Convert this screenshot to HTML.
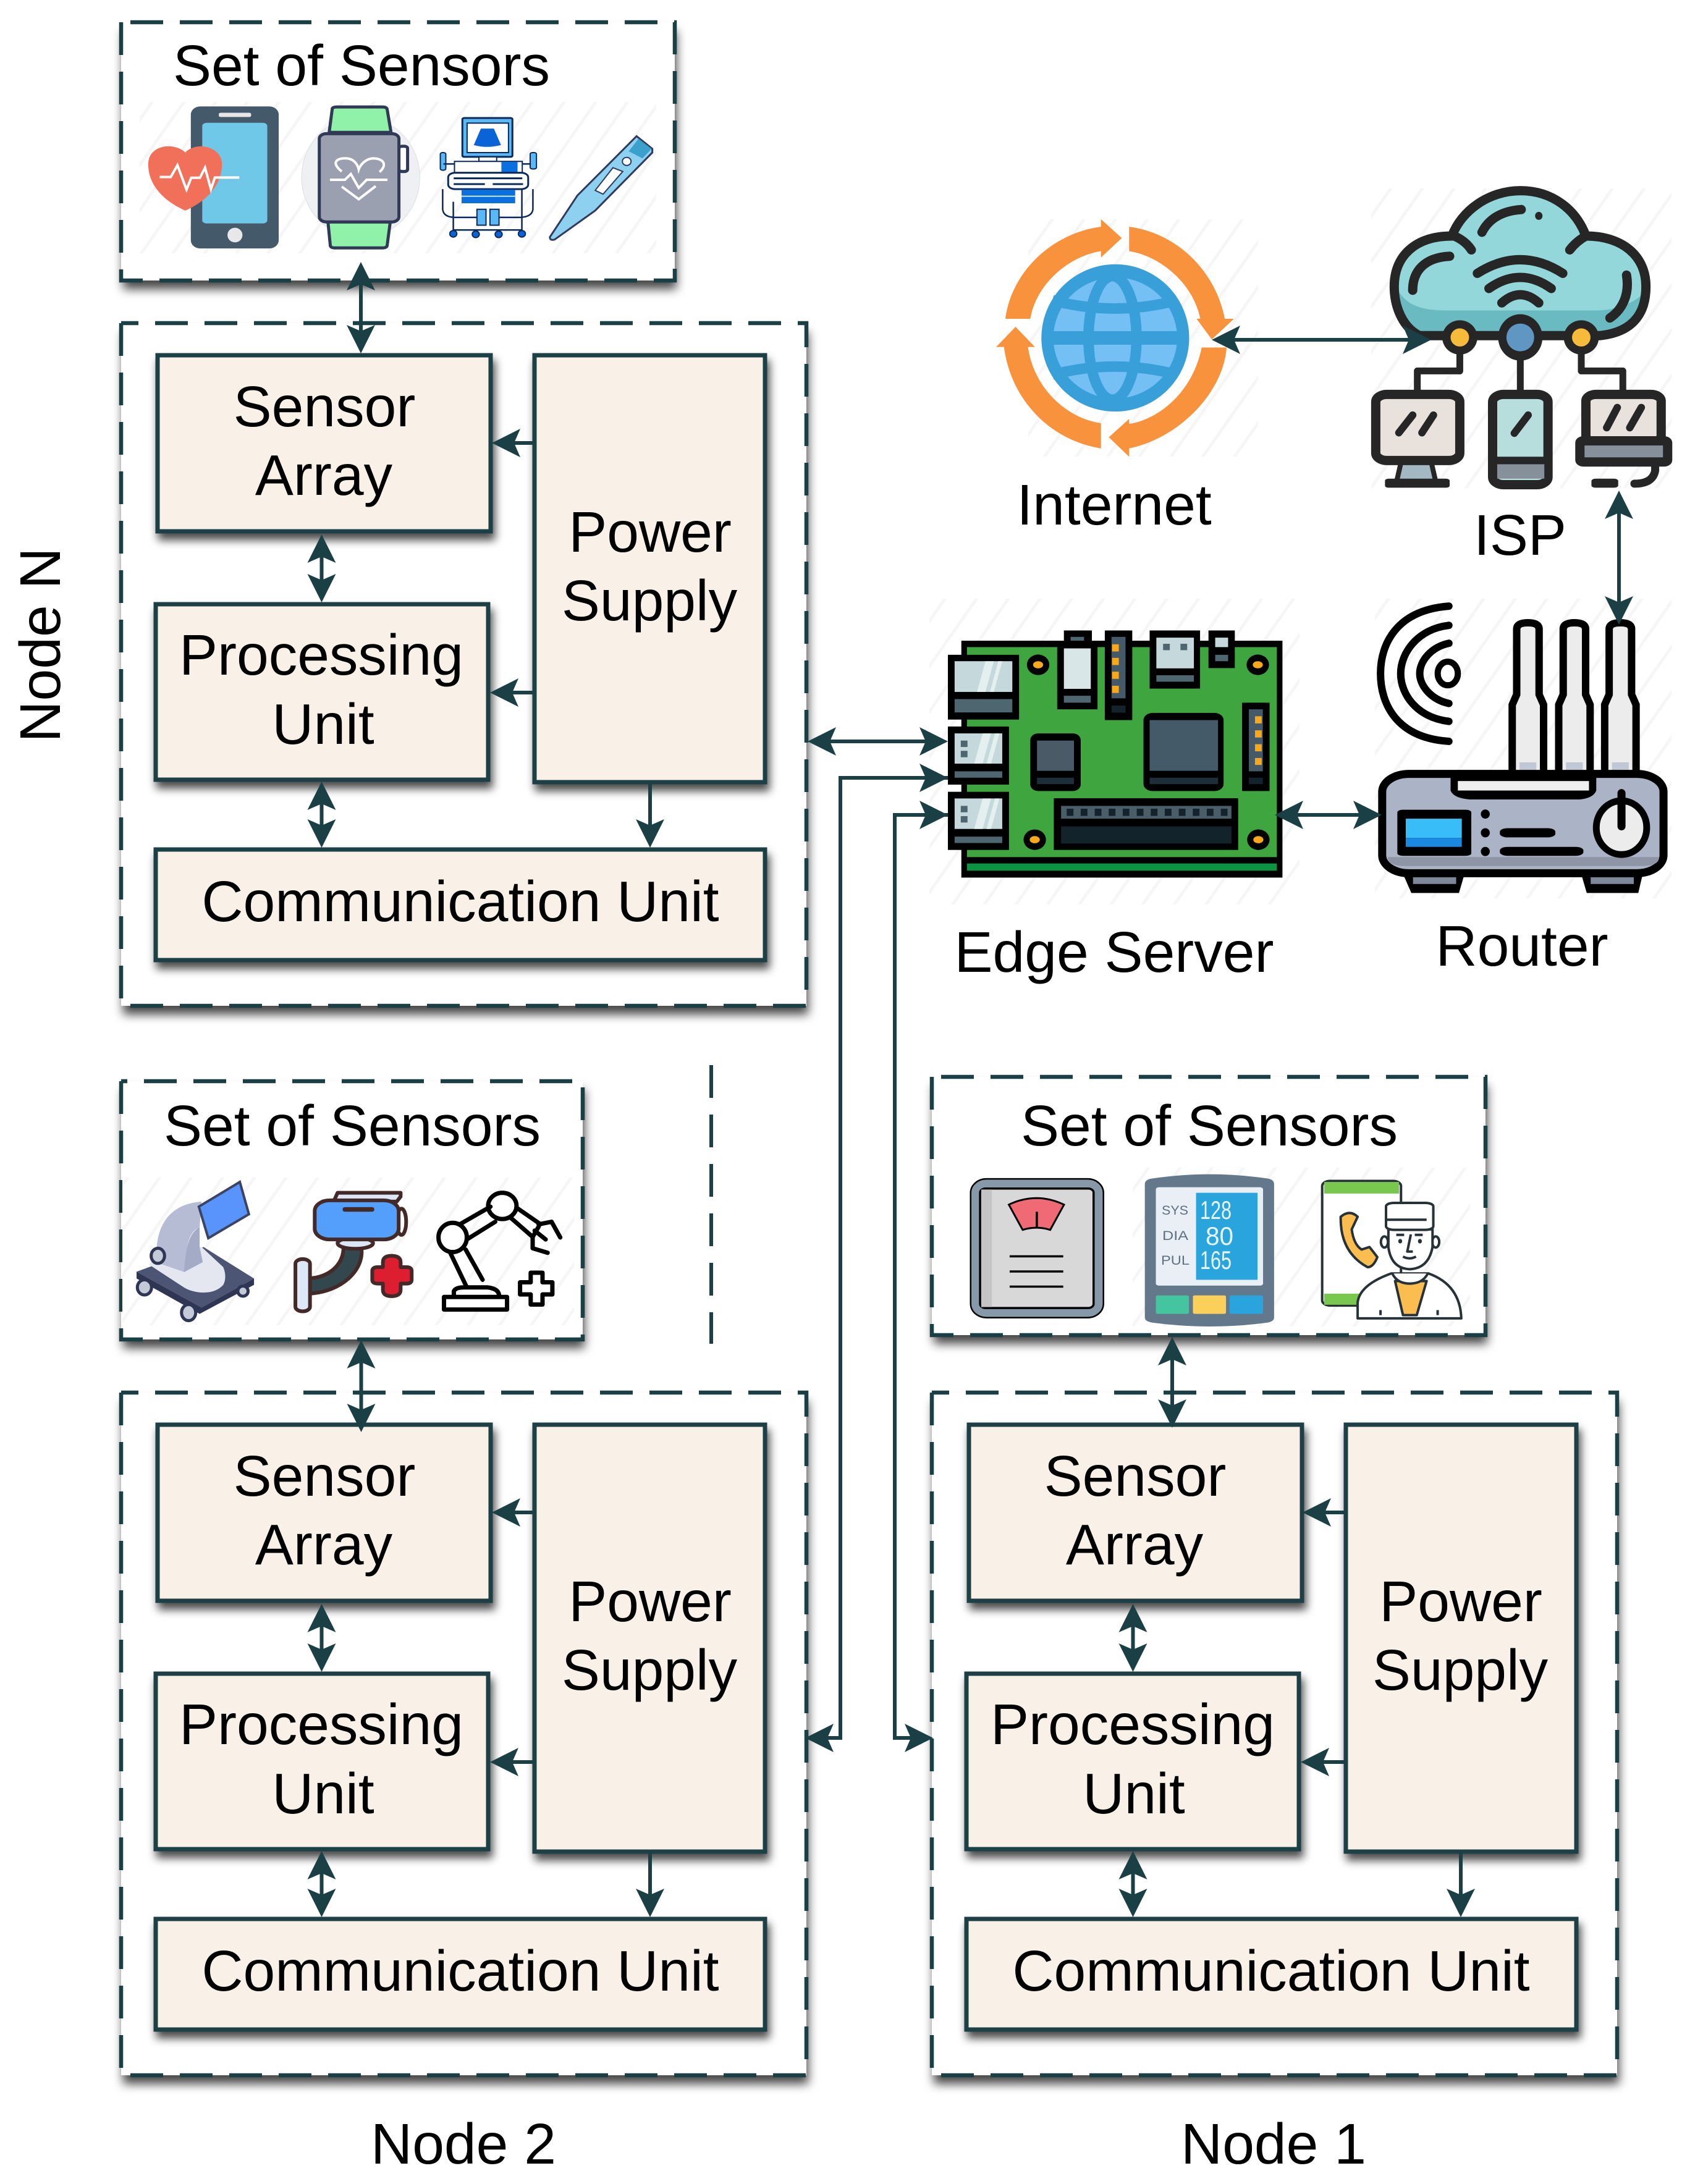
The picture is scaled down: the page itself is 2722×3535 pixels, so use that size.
<!DOCTYPE html>
<html><head><meta charset="utf-8"><style>
html,body{margin:0;padding:0;background:#fff}
svg{display:block}
text{font-family:"Liberation Sans",sans-serif;fill:#000}
.t{font-size:93px}
.m{text-anchor:middle}
.z *{vector-effect:non-scaling-stroke}
.b{fill:#f9f1e8;stroke:#1a3f45;stroke-width:7;filter:url(#s2)}
.w{fill:#fff;filter:url(#s1)}
.d{fill:none;stroke:#1a3f45;stroke-width:6.500;stroke-dasharray:53 27}
.l{fill:none;stroke:#1a3f45;stroke-width:6}
.h{fill:#1a3f45}
.hatch{fill:url(#hp)}
</style></head><body>
<svg xmlns="http://www.w3.org/2000/svg" width="2722" height="3535" viewBox="0 0 2722 3535">
<defs>
<filter id="s1" x="-10%" y="-10%" width="120%" height="130%"><feDropShadow dx="3" dy="14" stdDeviation="8" flood-color="#000" flood-opacity=".72"/></filter>
<filter id="s2" x="-20%" y="-30%" width="140%" height="170%"><feDropShadow dx="4" dy="11" stdDeviation="7" flood-color="#000" flood-opacity=".7"/></filter>
<pattern id="hp" width="42" height="42" patternUnits="userSpaceOnUse" patternTransform="rotate(35)"><rect width="42" height="42" fill="#fff"/><rect width="5" height="42" fill="#f6f6f6"/></pattern>
<path id="a" d="M0 0L-46 -23L-36 0L-46 23Z"/>
</defs>
<rect width="2722" height="3535" fill="#fff"/>

<!-- containers -->
<rect class="w" x="196" y="36" width="896" height="418"/>
<path class="d" d="M196 36V454H1092V36H196"/>
<rect class="w" x="196" y="1750" width="747" height="418"/>
<path class="d" d="M196 1750V2168H943V1750H196"/>
<rect class="w" x="1508" y="1743" width="896" height="418"/>
<path class="d" d="M1508 1743V2161H2404V1743H1508"/>
<path class="l" style="stroke-dasharray:53 27" d="M1151 1724V2175"/>

<rect class="hatch" x="226" y="165" width="836" height="245"/>
<rect class="hatch" x="198" y="1906" width="731" height="239"/>
<rect class="hatch" x="1833" y="1890" width="546" height="257"/>
<rect class="hatch" x="1664" y="355" width="372" height="384"/>
<rect class="hatch" x="2219" y="305" width="486" height="485"/>
<rect class="hatch" x="1504" y="969" width="599" height="495"/>
<rect class="hatch" x="2225" y="969" width="480" height="485"/>

<!-- Node N -->
<g>
<rect class="w" x="196" y="523" width="1109" height="1105"/>
<path class="d" d="M196 523V1628H1305V523H196"/>
<rect class="b" x="255" y="575" width="539" height="285"/>
<rect class="b" x="865" y="575" width="373" height="691"/>
<rect class="b" x="252" y="978" width="538" height="284"/>
<rect class="b" x="252" y="1375" width="986" height="179"/>
<text class="t m" x="525" y="690">Sensor</text><text class="t m" x="524" y="801">Array</text>
<text class="t m" x="520" y="1092">Processing</text><text class="t m" x="523" y="1204">Unit</text>
<text class="t m" x="1052" y="893">Power</text><text class="t m" x="1051" y="1004">Supply</text>
<text class="t m" x="745" y="1491">Communication Unit</text>
<path class="l" d="M520.500 880V960M520.500 1280V1356M865 717H810M865 1121H807M1052 1266V1360"/>
<use class="h" href="#a" transform="translate(520.500,865) rotate(-90)"/><use class="h" href="#a" transform="translate(520.500,975) rotate(90)"/>
<use class="h" href="#a" transform="translate(520.500,1265) rotate(-90)"/><use class="h" href="#a" transform="translate(520.500,1372) rotate(90)"/>
<use class="h" href="#a" transform="translate(796,717) rotate(180)"/><use class="h" href="#a" transform="translate(793,1121) rotate(180)"/>
<use class="h" href="#a" transform="translate(1052,1372) rotate(90)"/>
</g>

<!-- Node 2 -->
<g transform="translate(0,1731)">
<rect class="w" x="196" y="523" width="1109" height="1105"/>
<path class="d" d="M196 523V1628H1305V523H196"/>
<rect class="b" x="255" y="575" width="539" height="285"/>
<rect class="b" x="865" y="575" width="373" height="691"/>
<rect class="b" x="252" y="978" width="538" height="284"/>
<rect class="b" x="252" y="1375" width="986" height="179"/>
<text class="t m" x="525" y="690">Sensor</text><text class="t m" x="524" y="801">Array</text>
<text class="t m" x="520" y="1092">Processing</text><text class="t m" x="523" y="1204">Unit</text>
<text class="t m" x="1052" y="893">Power</text><text class="t m" x="1051" y="1004">Supply</text>
<text class="t m" x="745" y="1491">Communication Unit</text>
<path class="l" d="M520.500 880V960M520.500 1280V1356M865 717H810M865 1121H807M1052 1266V1360"/>
<use class="h" href="#a" transform="translate(520.500,865) rotate(-90)"/><use class="h" href="#a" transform="translate(520.500,975) rotate(90)"/>
<use class="h" href="#a" transform="translate(520.500,1265) rotate(-90)"/><use class="h" href="#a" transform="translate(520.500,1372) rotate(90)"/>
<use class="h" href="#a" transform="translate(796,717) rotate(180)"/><use class="h" href="#a" transform="translate(793,1121) rotate(180)"/>
<use class="h" href="#a" transform="translate(1052,1372) rotate(90)"/>
</g>

<!-- Node 1 -->
<g transform="translate(1312,1731)">
<rect class="w" x="196" y="523" width="1109" height="1105"/>
<path class="d" d="M196 523V1628H1305V523H196"/>
<rect class="b" x="256" y="575" width="539" height="285"/>
<rect class="b" x="866" y="575" width="373" height="691"/>
<rect class="b" x="252" y="978" width="538" height="284"/>
<rect class="b" x="252" y="1375" width="987" height="179"/>
<text class="t m" x="525" y="690">Sensor</text><text class="t m" x="524" y="801">Array</text>
<text class="t m" x="521" y="1092">Processing</text><text class="t m" x="523" y="1204">Unit</text>
<text class="t m" x="1052" y="893">Power</text><text class="t m" x="1051" y="1004">Supply</text>
<text class="t m" x="745" y="1491">Communication Unit</text>
<path class="l" d="M521.500 880V960M521.500 1280V1356M865 717H810M865 1121H807M1052 1266V1360"/>
<use class="h" href="#a" transform="translate(521.500,865) rotate(-90)"/><use class="h" href="#a" transform="translate(521.500,975) rotate(90)"/>
<use class="h" href="#a" transform="translate(521.500,1265) rotate(-90)"/><use class="h" href="#a" transform="translate(521.500,1372) rotate(90)"/>
<use class="h" href="#a" transform="translate(796,717) rotate(180)"/><use class="h" href="#a" transform="translate(793,1121) rotate(180)"/>
<use class="h" href="#a" transform="translate(1052,1372) rotate(90)"/>
</g>

<!-- Labels -->
<text class="t" x="280" y="138">Set of Sensors</text>
<text class="t" x="265" y="1854">Set of Sensors</text>
<text class="t" x="1652" y="1854">Set of Sensors</text>
<text class="t m" transform="translate(97,1044) rotate(-90)">Node N</text>
<text class="t m" x="750" y="3502">Node 2</text>
<text class="t m" x="2061" y="3502">Node 1</text>
<text class="t m" x="1803" y="849">Internet</text>
<text class="t m" x="2460" y="898">ISP</text>
<text class="t m" x="1803" y="1573">Edge Server</text>
<text class="t m" x="2463" y="1563">Router</text>

<!-- Top sensors icons -->
<g class="z" transform="translate(150,0) scale(.6378,.4082)">
<rect x="249" y="422" width="223" height="563" rx="24" ry="32" fill="#44596a"/>
<rect x="320" y="447" width="82" height="17" rx="5" fill="#e6e6e6"/>
<rect x="278" y="487" width="165" height="399" rx="12" fill="#70c8e9"/>
<ellipse cx="361" cy="932" rx="19" ry="29" fill="#e8e8e8"/>
<path d="M235 835C170 790 140 720 141 650C141 600 170 578 195 580C215 582 230 595 235 605C240 595 255 580 275 580C305 582 328 610 328 650C328 720 300 790 235 835Z" fill="#f0705a"/>
<path d="M170 702H198L215 655L238 752L250 705H272L285 665L300 750L310 704H372" fill="none" stroke="#fff" stroke-width="4"/>
<ellipse cx="680" cy="703" rx="150" ry="240" fill="#eef0f4" stroke="#ddd" stroke-width="1"/>
<path d="M600 525L608 430Q610 424 620 424H735Q745 424 747 432L757 525Z" fill="#8ff2a8" stroke="#303a56" stroke-width="5"/>
<path d="M597 880L603 975Q605 983 615 983H735Q745 983 747 975L755 880Z" fill="#8ff2a8" stroke="#303a56" stroke-width="5"/>
<rect x="777" y="580" width="22" height="100" rx="8" fill="#fff" stroke="#303a56" stroke-width="5"/>
<rect x="575" y="530" width="202" height="350" rx="18" ry="20" fill="#9aa0b0" stroke="#303a56" stroke-width="5"/>
<path d="M632 680C600 640 625 625 645 628C662 630 672 650 675 672C680 650 695 628 712 628C735 628 750 650 728 682M602 713H640L655 690L675 745L695 713H748M632 740L675 790L718 738" fill="none" stroke="#fff" stroke-width="4"/>
<rect x="938" y="468" width="127" height="154" rx="5" fill="#5ab8f5" stroke="#0b2a5c" stroke-width="3"/>
<rect x="950" y="488" width="105" height="117" fill="#fff" stroke="#0b2a5c" stroke-width="2"/>
<path d="M985 510H1018L1036 575Q1000 590 967 575Z" fill="#0a64d8"/>
<rect x="980" y="622" width="45" height="18" fill="#fff" stroke="#0b2a5c" stroke-width="2"/>
<rect x="918" y="640" width="172" height="48" fill="#fff" stroke="#0b2a5c" stroke-width="2"/>
<rect x="1037" y="642" width="41" height="45" fill="#0a70e0"/>
<rect x="882" y="605" width="14" height="70" rx="6" fill="#5ab8f5" stroke="#0b2a5c" stroke-width="2"/>
<rect x="1110" y="605" width="16" height="65" rx="6" fill="#5ab8f5" stroke="#0b2a5c" stroke-width="2"/>
<path d="M890 650H918M1090 650H1112M888 750V830Q890 862 920 862H975M1030 862H1085Q1115 860 1117 830V750M915 800V920M1089 750V920M915 912H1089" fill="none" stroke="#0b2a5c" stroke-width="2.500"/>
<rect x="902" y="685" width="203" height="65" rx="18" fill="#fff" stroke="#0b2a5c" stroke-width="3"/>
<path d="M916 707H1090M916 730H995M1015 730H1092" fill="none" stroke="#0b2a5c" stroke-width="3"/>
<rect x="936" y="752" width="136" height="24" fill="#0a70e0"/><rect x="936" y="780" width="136" height="26" fill="#0a70e0"/>
<rect x="975" y="830" width="23" height="63" fill="#5ab8f5" stroke="#0b2a5c" stroke-width="2"/><rect x="1008" y="830" width="23" height="63" fill="#5ab8f5" stroke="#0b2a5c" stroke-width="2"/>
<g fill="#0a64d8" stroke="#0b2a5c" stroke-width="2"><ellipse cx="915" cy="927" rx="9" ry="13"/><ellipse cx="972" cy="929" rx="9" ry="13"/><ellipse cx="1030" cy="929" rx="9" ry="13"/><ellipse cx="1089" cy="927" rx="9" ry="13"/></g>
<path d="M1160 940L1230 775L1380 540L1420 590L1420 605L1275 835L1172 950Q1160 955 1160 940Z" fill="#8ed0f0" stroke="#2f3a5c" stroke-width="3"/>
<path d="M1360 600L1385 550L1418 590L1395 628Z" fill="#3ba0cc"/>
<path d="M1275 755L1320 665L1345 680L1295 770Z" fill="#fff" stroke="#2f3a5c" stroke-width="2"/>
<ellipse cx="1355" cy="640" rx="11" ry="16" fill="#fff" stroke="#2f3a5c" stroke-width="2"/>
</g>

<!-- Internet & ISP -->
<g class="z" transform="translate(1550,280) scale(.7474,.4082)">
<g fill="#f9923d">
<path d="M103 578C115 400 200 240 310 213L310 183L355 258L310 335L310 310C240 330 170 440 157 578Z"/>
<path d="M371 213C480 240 560 400 578 578L598 578L550 660L517 578H525C510 440 440 330 371 310Z"/>
<path d="M582 692C575 870 480 1050 371 1092L371 1125L327 1048L371 975V995C440 975 510 860 528 692Z"/>
<path d="M310 992V1092C200 1060 115 900 100 690H83L125 610L167 690H152C165 860 240 975 310 992Z"/>
</g>
<ellipse cx="341" cy="654" rx="160" ry="292" fill="#389fd9"/>
<ellipse cx="341" cy="654" rx="134" ry="240" fill="#74bff4"/>
<g fill="none" stroke="#389fd9"><path d="M195 654H490" stroke-width="22"/><ellipse cx="335" cy="654" rx="52" ry="245" stroke-width="17"/><path d="M205 505Q340 570 475 505M205 800Q340 735 475 800" stroke-width="17"/></g>

<path d="M1000 645C960 610 945 520 945 450C945 330 990 250 1070 250C1090 150 1150 70 1218 70C1290 70 1340 150 1360 250C1440 250 1490 330 1490 450C1490 540 1470 630 1390 645Z" fill="#93d7db"/>
<path d="M955 470C975 530 1010 545 1060 545H1380C1430 545 1470 510 1488 470C1490 560 1460 640 1390 645H1000C960 610 950 530 955 470Z" fill="#69bbc1"/>
<g fill="none" stroke="#262626" stroke-width="15" stroke-linecap="round" stroke-linejoin="round">
<path d="M1000 645C960 610 945 520 945 450C945 330 990 250 1070 250C1090 150 1150 70 1218 70C1290 70 1340 150 1360 250C1440 250 1490 330 1490 450C1490 540 1470 630 1390 645H1000"/>
<path d="M1075 250Q1100 270 1112 305M1360 250Q1340 270 1325 305M1125 398Q1218 290 1310 398M1150 458Q1218 370 1285 458M1178 515Q1218 450 1258 515M1135 235C1150 180 1180 150 1220 145M985 465C985 390 1010 335 1065 330M1412 575C1440 540 1455 480 1448 405"/>
<path d="M1087 715V785H995V865M1218 740V865M1350 715V785H1440V865" stroke-width="11"/>
</g>
<ellipse cx="1258" cy="170" rx="8" ry="16" fill="#262626"/>
<ellipse cx="1087" cy="652" rx="38" ry="68" fill="#262626"/><ellipse cx="1087" cy="652" rx="20" ry="36" fill="#f6bb3a"/>
<ellipse cx="1218" cy="652" rx="48" ry="92" fill="#262626"/><ellipse cx="1218" cy="652" rx="30" ry="55" fill="#5f97c2"/>
<ellipse cx="1350" cy="652" rx="38" ry="68" fill="#262626"/><ellipse cx="1350" cy="652" rx="20" ry="36" fill="#f6bb3a"/>
<path d="M960 1145L950 1225H1035L1025 1145Z" fill="#a4b8c4" stroke="#262626" stroke-width="8"/>
<rect x="925" y="1212" width="140" height="36" rx="8" fill="#262626"/>
<rect x="905" y="878" width="182" height="262" rx="24" ry="30" fill="#e9e2dc" stroke="#262626" stroke-width="15"/>
<rect x="1158" y="878" width="120" height="358" rx="24" ry="30" fill="#b7dedd" stroke="#262626" stroke-width="15"/>
<rect x="1168" y="1125" width="102" height="30" fill="#262626"/><rect x="1168" y="1155" width="102" height="57" fill="#85909a"/>
<rect x="1360" y="878" width="163" height="190" rx="22" ry="26" fill="#e9e2dc" stroke="#262626" stroke-width="15"/>
<rect x="1347" y="1062" width="190" height="84" rx="8" fill="#85909a" stroke="#262626" stroke-width="15"/>
<rect x="1372" y="1212" width="58" height="36" rx="9" fill="#262626"/>
<path d="M1510 1150V1180Q1505 1232 1465 1232" fill="none" stroke="#262626" stroke-width="13" stroke-linecap="round"/>
<path d="M955 1030L985 960M1005 1030L1030 960M1205 1032L1235 960M1405 1010L1428 930M1455 1010L1480 930" fill="none" stroke="#262626" stroke-width="12" stroke-linecap="round"/>
</g>

<!-- Board & Router -->
<g class="z" transform="translate(1300,950) scale(.9069,.4145)">
<rect x="282" y="210" width="573" height="925" fill="#000"/>
<rect x="292" y="235" width="553" height="820" fill="#3fa63f"/>
<rect x="292" y="1080" width="553" height="28" fill="#0a9440"/>
<rect x="258" y="265" width="127" height="253" fill="#000"/><rect x="270" y="290" width="103" height="120" fill="#c5d8dc"/><rect x="270" y="438" width="103" height="52" fill="#4e6670"/>
<path d="M325 290H340L325 410H310ZM348 290H355L340 410H333Z" fill="#e4f0f0"/>
<rect x="258" y="545" width="109" height="227" fill="#000"/><rect x="270" y="572" width="85" height="118" fill="#c5d8dc"/><rect x="270" y="720" width="85" height="25" fill="#4e6670"/>
<path d="M320 572H335L320 690H305ZM342 572H350L335 690H327Z" fill="#e4f0f0"/><rect x="281" y="600" width="12" height="25" fill="#4e6670"/><rect x="281" y="640" width="12" height="25" fill="#4e6670"/>
<rect x="258" y="800" width="109" height="227" fill="#000"/><rect x="270" y="826" width="85" height="119" fill="#c5d8dc"/><rect x="270" y="975" width="85" height="25" fill="#4e6670"/>
<path d="M320 826H335L320 945H305ZM342 826H350L335 945H327Z" fill="#e4f0f0"/><rect x="281" y="855" width="12" height="25" fill="#4e6670"/><rect x="281" y="895" width="12" height="25" fill="#4e6670"/>
<rect x="465" y="170" width="50" height="70" fill="#000"/><rect x="477" y="195" width="24" height="15" fill="#4e6670"/>
<rect x="453" y="235" width="72" height="243" fill="#000"/><rect x="465" y="240" width="48" height="158" fill="#d8e6e8"/><rect x="465" y="425" width="48" height="27" fill="#4e6670"/>
<rect x="538" y="170" width="49" height="350" fill="#000"/><rect x="550" y="195" width="25" height="240" fill="#445a68"/>
<g fill="#f9a81b"><rect x="551" y="224" width="12" height="28"/><rect x="551" y="277" width="12" height="28"/><rect x="551" y="331" width="12" height="28"/><rect x="551" y="386" width="12" height="28"/></g>
<rect x="550" y="463" width="25" height="28" fill="#12232c"/>
<rect x="618" y="170" width="90" height="227" fill="#000"/><rect x="630" y="198" width="67" height="120" fill="#c5d8dc"/><rect x="630" y="345" width="67" height="25" fill="#4e6670"/>
<rect x="642" y="222" width="12" height="25" fill="#4e6670"/><rect x="673" y="222" width="12" height="25" fill="#4e6670"/>
<rect x="723" y="170" width="47" height="147" fill="#000"/><rect x="735" y="198" width="23" height="37" fill="#c5d8dc"/><rect x="735" y="265" width="23" height="25" fill="#4e6670"/>
<g fill="#000"><ellipse cx="419" cy="304" rx="20" ry="40"/><ellipse cx="811" cy="304" rx="20" ry="40"/><ellipse cx="413" cy="987" rx="20" ry="40"/><ellipse cx="812" cy="987" rx="20" ry="40"/></g>
<g fill="#f9a81b"><ellipse cx="419" cy="304" rx="9" ry="14"/><ellipse cx="811" cy="304" rx="9" ry="14"/><ellipse cx="413" cy="987" rx="9" ry="14"/><ellipse cx="812" cy="987" rx="9" ry="14"/></g>
<rect x="607" y="492" width="143" height="305" rx="16" ry="28" fill="#000"/><rect x="618" y="520" width="122" height="198" fill="#445a68"/><rect x="618" y="745" width="122" height="25" fill="#1e2f3a"/>
<rect x="405" y="572" width="90" height="225" rx="14" ry="26" fill="#000"/><rect x="417" y="600" width="66" height="118" fill="#4a5a66"/><rect x="417" y="745" width="66" height="25" fill="#1e2f3a"/>
<rect x="783" y="452" width="49" height="345" fill="#000"/><rect x="795" y="478" width="25" height="242" fill="#445a68"/>
<g fill="#f9a81b"><rect x="806" y="505" width="12" height="28"/><rect x="806" y="560" width="12" height="28"/><rect x="806" y="614" width="12" height="28"/><rect x="806" y="668" width="12" height="27"/></g>
<rect x="795" y="745" width="25" height="25" fill="#12232c"/>
<rect x="447" y="825" width="329" height="202" fill="#000"/><rect x="460" y="855" width="304" height="50" fill="#4a5e68"/><rect x="460" y="935" width="304" height="67" fill="#12232c"/>
<g fill="#12232c"><rect x="470" y="866" width="12" height="28"/><rect x="495" y="866" width="12" height="28"/><rect x="520" y="866" width="12" height="28"/><rect x="545" y="866" width="12" height="28"/><rect x="570" y="866" width="12" height="28"/><rect x="595" y="866" width="12" height="28"/><rect x="620" y="866" width="12" height="28"/><rect x="645" y="866" width="12" height="28"/><rect x="670" y="866" width="12" height="28"/><rect x="695" y="866" width="12" height="28"/><rect x="720" y="866" width="12" height="28"/><rect x="745" y="866" width="12" height="28"/></g>

<g fill="none" stroke="#000" stroke-width="12" stroke-linecap="round">
<path d="M1152 75C1060 90 1030 220 1030 338C1030 460 1060 590 1152 603"/>
<path d="M1152 150C1095 165 1066 260 1066 338C1066 420 1095 510 1152 525"/>
<path d="M1152 220C1120 235 1100 290 1100 338C1100 385 1120 440 1152 455"/>
</g>
<ellipse cx="1150" cy="338" rx="18" ry="46" fill="#fff" stroke="#000" stroke-width="10"/>
<g fill="#ececec" stroke="#000" stroke-width="12">
<path d="M1265 735V460L1273 420V165Q1273 140 1293 140Q1313 140 1313 165V420L1321 460V735Z"/>
<path d="M1348 735V460L1356 420V165Q1356 140 1376 140Q1396 140 1396 165V420L1404 460V735Z"/>
<path d="M1430 735V460L1438 420V165Q1438 140 1458 140Q1478 140 1478 165V420L1486 460V735Z"/>
</g>
<path d="M1278 685H1308V722H1278ZM1361 685H1391V722H1361ZM1443 685H1473V722H1443Z" fill="#c0c8d6"/>
<path d="M1070 1120L1085 1195H1170L1180 1120Z" fill="#000"/><path d="M1388 1120L1398 1195H1490L1498 1120Z" fill="#000"/>
<rect x="1088" y="1122" width="77" height="38" fill="#7d879a"/><rect x="1405" y="1122" width="77" height="38" fill="#7d879a"/>
<rect x="1033" y="730" width="502" height="388" rx="48" ry="70" fill="#abb4c6" stroke="#000" stroke-width="13"/>
<path d="M1043 1055H1527V1060Q1525 1090 1495 1090H1075Q1045 1090 1043 1060Z" fill="#8e95a5"/>
<path d="M1155 735V795Q1160 825 1190 830H1385Q1410 825 1415 795V735Z" fill="#000"/>
<rect x="1168" y="758" width="234" height="37" fill="#eee"/>
<rect x="1060" y="870" width="132" height="180" rx="10" fill="#000"/>
<rect x="1075" y="905" width="100" height="75" fill="#38bdf8"/><rect x="1075" y="980" width="100" height="35" fill="#1a8ae0"/>
<g fill="#000"><ellipse cx="1217" cy="887" rx="8" ry="18"/><ellipse cx="1217" cy="960" rx="8" ry="18"/><ellipse cx="1217" cy="1033" rx="8" ry="18"/>
<rect x="1243" y="942" width="99" height="36" rx="14"/><rect x="1243" y="1015" width="149" height="35" rx="14"/></g>
<ellipse cx="1460" cy="940" rx="45" ry="105" fill="#ececec" stroke="#000" stroke-width="11"/>
<path d="M1460 805V935" stroke="#000" stroke-width="13" stroke-linecap="round"/>
</g>

<!-- Node 2 sensors -->
<g class="z" transform="translate(170,1700) scale(.6378,.4082)">
<path d="M80 878L250 780L378 905L245 1020Z" fill="#4d5575"/>
<path d="M80 878L245 1020L378 905V930L240 1045L80 905Z" fill="#2f3654"/>
<path d="M112 850L125 820L245 780L300 860Q310 900 300 930Q280 965 240 960Q215 955 200 940Z" fill="#e4e7f0"/>
<path d="M130 815C130 700 160 610 245 600L240 700C215 720 205 760 203 880L118 835Z" fill="#b5bcd4"/>
<path d="M240 700C208 730 205 800 200 880L248 840L240 780Z" fill="#a3abc6"/>
<path d="M238 620L342 522L365 650L262 745Z" fill="#5894fb" stroke="#3b4463" stroke-width="4"/>
<g fill="#c5cad8" stroke="#2f3654" stroke-width="5"><ellipse cx="134" cy="815" rx="17" ry="30"/><ellipse cx="100" cy="940" rx="18" ry="30"/><ellipse cx="212" cy="1040" rx="18" ry="32"/><ellipse cx="350" cy="955" rx="13" ry="20"/></g>

<g stroke="#432a29" stroke-width="6" stroke-linejoin="round">
<path d="M590 565H750V580L740 600H580Z" fill="#dce8f8"/>
<ellipse cx="752" cy="680" rx="12" ry="52" fill="#fff"/>
<path d="M650 780C660 870 600 960 515 965V905C570 900 605 850 605 780Z" fill="#33474f"/>
<ellipse cx="635" cy="765" rx="45" ry="22" fill="#dce8f8"/>
<rect x="532" y="595" width="213" height="155" rx="38" ry="42" fill="#549ffb"/>
<rect x="483" y="828" width="37" height="207" rx="18" fill="#dce8f8"/>
<path d="M705 840Q705 815 727 815Q750 815 750 840V860H765Q778 860 778 875V910Q778 925 765 925H750V950Q750 975 727 975Q705 975 705 950V925H692Q678 925 678 910V875Q678 860 692 860H705Z" fill="#dc1e30"/>
</g>
<rect x="603" y="622" width="80" height="18" rx="6" fill="#432a29"/>

<g fill="none" stroke="#000" stroke-width="7" stroke-linecap="round" stroke-linejoin="round">
<ellipse cx="882" cy="742" rx="36" ry="58"/><ellipse cx="1008" cy="617" rx="36" ry="52"/>
<path d="M900 690L978 620M918 750L990 680M875 800L918 940M915 790L958 910M1045 625L1105 690M1030 665L1085 740M1100 690L1133 680L1155 742M1100 700L1085 740V785L1123 803M1090 715L1118 750M885 975V955Q890 940 910 940H970Q1000 945 1000 975"/>
<rect x="860" y="978" width="160" height="50" fill="#fff"/>
<path d="M1080 882H1110V920H1135V968H1110V1008H1080V968H1053V920H1080Z" fill="#fff"/>
</g>
</g>

<!-- Node 1 sensors -->
<g class="z" transform="translate(1470,1700) scale(.6378,.4082)">
<rect x="158" y="510" width="337" height="550" rx="40" ry="55" fill="#8799a8" stroke="#000" stroke-width="2.500"/>
<rect x="182" y="548" width="288" height="474" rx="14" ry="16" fill="#d8d8d8" stroke="#000" stroke-width="3.500"/>
<rect x="185" y="552" width="27" height="466" fill="#c4c4c4"/>
<path d="M255 612Q325 560 395 612L360 712Q325 695 290 712Z" fill="#f06a75" stroke="#000" stroke-width="3"/>
<path d="M326 640V700M257 817H393M257 877H393M257 937H393" fill="none" stroke="#000" stroke-width="3.500"/>
<path d="M600 530Q600 512 620 508Q765 475 910 508Q928 512 928 530V1060Q928 1075 910 1080Q765 1110 620 1080Q600 1075 600 1060Z" fill="#64788c"/>
<rect x="628" y="543" width="272" height="390" rx="8" fill="#e9eff4"/>
<rect x="730" y="565" width="156" height="345" fill="#29a4dd"/>
<rect x="628" y="972" width="84" height="73" rx="5" fill="#45c4a0"/><rect x="722" y="972" width="84" height="73" rx="5" fill="#fad05b"/><rect x="815" y="972" width="85" height="73" rx="5" fill="#29a4dd"/>
<rect x="1050" y="518" width="200" height="494" rx="20" fill="#fff" stroke="#263238" stroke-width="4"/>
<rect x="1055" y="522" width="190" height="46" fill="#7ac74f"/><rect x="1055" y="965" width="90" height="44" fill="#7ac74f"/>
<g stroke="#263238" stroke-width="4" stroke-linejoin="round">
<path d="M1097 660Q1120 630 1140 660L1125 710Q1130 770 1150 790L1170 780L1190 820Q1180 860 1165 860Q1095 800 1097 660Z" fill="#fbbd50"/>
<path d="M1140 1063V1000Q1145 930 1225 885H1320Q1400 930 1403 1063Z" fill="#fff"/>
<path d="M1235 915L1315 915L1290 1050H1255Z" fill="#fbbd50"/>
<path d="M1228 885Q1240 925 1272 925Q1305 925 1318 885" fill="#fff"/>
<ellipse cx="1208" cy="760" rx="9" ry="22" fill="#fff"/><ellipse cx="1338" cy="760" rx="9" ry="22" fill="#fff"/>
<path d="M1218 710V780Q1225 865 1272 868Q1320 865 1330 780V710Z" fill="#fff"/>
<rect x="1212" y="605" width="120" height="107" rx="20" ry="14" fill="#fff"/>
<path d="M1215 672H1315M1238 732H1258M1285 732H1305M1275 730L1266 798H1280M1255 818Q1272 832 1288 818M1198 1050V1030M1343 1050V1030" fill="none"/>
</g>
<ellipse cx="1248" cy="757" rx="5" ry="9" fill="#263238"/><ellipse cx="1298" cy="757" rx="5" ry="9" fill="#263238"/>
</g>
<g font-size="21"><text x="1880" y="1966" style="fill:#5d7183" textLength="43" lengthAdjust="spacingAndGlyphs">SYS</text><text x="1881" y="2007" style="fill:#5d7183" textLength="42" lengthAdjust="spacingAndGlyphs">DIA</text><text x="1879" y="2047" style="fill:#5d7183" textLength="46" lengthAdjust="spacingAndGlyphs">PUL</text></g>
<g font-size="42"><text x="1942" y="1973" style="fill:#e8f6fc" textLength="51" lengthAdjust="spacingAndGlyphs">128</text><text x="1951" y="2015" style="fill:#e8f6fc" textLength="45" lengthAdjust="spacingAndGlyphs">80</text><text x="1942" y="2054" style="fill:#e8f6fc" textLength="51" lengthAdjust="spacingAndGlyphs">165</text></g>

<!-- Connectors -->
<path class="l" d="M584 450V560M584.500 2190V2300M1897 2185V2295M1975 550H2300M2620 810V1000M1320 1200H1520M1534 1259H1360V2813H1315M1534 1319H1448V2813H1500M2075 1319H2225"/>
<use class="h" href="#a" transform="translate(584,424) rotate(-90)"/><use class="h" href="#a" transform="translate(584,572) rotate(90)"/>
<use class="h" href="#a" transform="translate(584.500,2169) rotate(-90)"/><use class="h" href="#a" transform="translate(584.500,2318) rotate(90)"/>
<use class="h" href="#a" transform="translate(1897,2164) rotate(-90)"/><use class="h" href="#a" transform="translate(1897,2311) rotate(90)"/>
<use class="h" href="#a" transform="translate(1961,550) rotate(180)"/><use class="h" href="#a" transform="translate(2316,550)"/>
<use class="h" href="#a" transform="translate(2620,794) rotate(-90)"/><use class="h" href="#a" transform="translate(2620,1011) rotate(90)"/>
<use class="h" href="#a" transform="translate(1307,1200) rotate(180)"/><use class="h" href="#a" transform="translate(1534,1200)"/>
<use class="h" href="#a" transform="translate(1534,1259)"/><use class="h" href="#a" transform="translate(1303,2813) rotate(180)"/>
<use class="h" href="#a" transform="translate(1534,1319)"/><use class="h" href="#a" transform="translate(1510,2813)"/>
<use class="h" href="#a" transform="translate(2063,1319) rotate(180)"/><use class="h" href="#a" transform="translate(2236,1319)"/>
</svg>
</body></html>
